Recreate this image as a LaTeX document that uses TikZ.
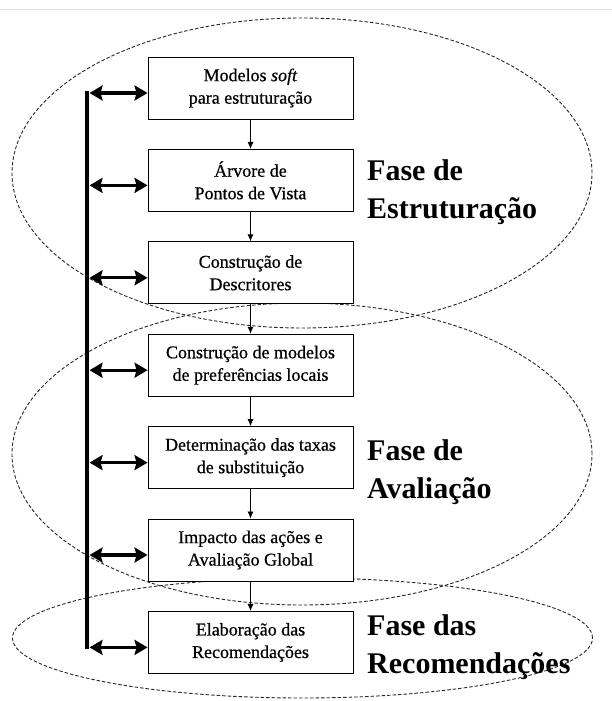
\documentclass[tikz,border=0pt]{standalone}
\usepackage{fontspec}
\setmainfont{Liberation Serif}
\newfontfamily\etapafont{Liberation Serif}[FakeBold=0.6]
\usetikzlibrary{arrows.meta,positioning}

\tikzset{
  etapa/.style={draw, line width=0.9pt, fill=white, minimum width=205pt,
    minimum height=62pt, inner sep=2pt, align=center,
    font=\etapafont\fontsize{18}{22.5}\selectfont},
  fase/.style={anchor=north west, inner sep=0pt, align=left,
    font=\bfseries\fontsize{30}{38}\selectfont},
  faseborda/.style={draw=gray!30!black, line width=0.9pt,
    dash pattern=on 3.5pt off 2pt},
  liga/.style={->, line width=0.8pt},
  barra/.style={{Stealth[length=13pt,width=15pt,inset=2pt]}-{Stealth[length=13pt,width=15pt,inset=2pt]},
    line width=3.2pt},
}

\begin{document}
\begin{tikzpicture}[>={Latex[length=7pt,width=6pt]}, x=1pt, y=-1pt, node distance=29.5pt]

\useasboundingbox (0,0) rectangle (612,701);
\draw[gray!25, line width=1pt] (0,10) -- (612,10);

% fases
\draw[faseborda] (302,173) ellipse [x radius=290pt, y radius=155pt];
\draw[faseborda] (302,454) ellipse [x radius=290pt, y radius=151pt];
\draw[faseborda] (302.5,638) ellipse [x radius=290pt, y radius=60pt];

\node[etapa] (soft) at (250.5,88) {Modelos \textit{soft}\\para estruturação};
\node[etapa, below=of soft] (arvore) {Árvore de\\Pontos de Vista};
\node[etapa, below=of arvore] (descr) {Construção de\\Descritores};
\node[etapa, below=of descr] (prefs) {Construção de modelos\\de preferências locais};
\node[etapa, below=of prefs] (taxas) {Determinação das taxas\\de substituição};
\node[etapa, below=of taxas] (impacto) {Impacto das ações e\\Avaliação Global};
\node[etapa, below=of impacto] (recom) {Elaboração das\\Recomendações};

\foreach \a/\b in {soft/arvore,arvore/descr,descr/prefs,prefs/taxas,taxas/impacto,impacto/recom}
  \draw[liga] (\a) -- (\b);

\coordinate (bartopo) at ([xshift=-60.5pt,yshift=-5pt]soft.west);
\coordinate (barbase) at ([xshift=-60.5pt,yshift=-5pt]recom.west);
\draw[line width=3.5pt, line cap=rect] (bartopo) -- (barbase);

\foreach \n in {soft,arvore,descr,prefs,taxas,impacto,recom}
  \draw[barra] ([xshift=-58pt,yshift=-5pt]\n.west) -- ([yshift=-5pt]\n.west);

\node[fase] (festr) at (367,159.5) {Fase de\\Estruturação};
\node[fase] (faval) at (367,439.5) {Fase de\\Avaliação};
\node[fase] (frecom) at (367,614.5) {Fase das\\Recomendações};

\end{tikzpicture}
\end{document}
